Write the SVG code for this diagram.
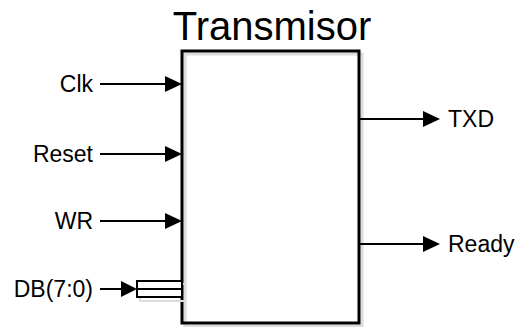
<svg xmlns="http://www.w3.org/2000/svg" width="516" height="327" viewBox="0 0 516 327">
<style>
  text { font-family: "Liberation Sans", Arial, sans-serif; fill: #000; }
  .lbl { font-size: 23px; }
  .wire { stroke: #000; stroke-width: 2; fill: none; }
  .ah { fill: #000; stroke: none; }
</style>
<rect width="516" height="327" fill="#fff"/>
<g id="block">
  <rect x="185" y="54" width="177" height="272" fill="none" stroke="#dcdcdc" stroke-width="3"/>
  <rect x="182" y="51" width="177" height="272" fill="none" stroke="#000" stroke-width="3"/>
  <text x="272" y="40" font-size="40" text-anchor="middle">Transmisor</text>
</g>
<g id="bus">
  <rect x="140" y="284" width="45" height="17" fill="none" stroke="#dcdcdc" stroke-width="2"/>
  <rect x="137" y="281" width="45" height="16" fill="#fff" stroke="#000" stroke-width="2"/>
  <line x1="137" y1="289" x2="182" y2="289" stroke="#000" stroke-width="2"/>
</g>
<g id="connectors">
  <line class="wire" x1="100" y1="84" x2="168" y2="84"/>
  <polygon class="ah" points="165,76 182,84 165,92"/>
  <line class="wire" x1="100" y1="154" x2="168" y2="154"/>
  <polygon class="ah" points="165,146 182,154 165,162"/>
  <line class="wire" x1="100" y1="221" x2="168" y2="221"/>
  <polygon class="ah" points="165,213 182,221 165,229"/>
  <line class="wire" x1="100" y1="289" x2="124" y2="289"/>
  <polygon class="ah" points="121,281 137,289 121,297"/>
  <line class="wire" x1="359" y1="119" x2="425" y2="119"/>
  <polygon class="ah" points="423,111 440,119 423,127"/>
  <line class="wire" x1="359" y1="244" x2="425" y2="244"/>
  <polygon class="ah" points="423,236 440,244 423,252"/>
</g>
<g id="labels">
  <text class="lbl" x="93" y="92" text-anchor="end">Clk</text>
  <text class="lbl" x="93" y="162" text-anchor="end">Reset</text>
  <text class="lbl" x="93" y="229" text-anchor="end">WR</text>
  <text class="lbl" x="93" y="297" text-anchor="end">DB(7:0)</text>
  <text class="lbl" x="448" y="127">TXD</text>
  <text class="lbl" x="448" y="252">Ready</text>
</g>
</svg>
